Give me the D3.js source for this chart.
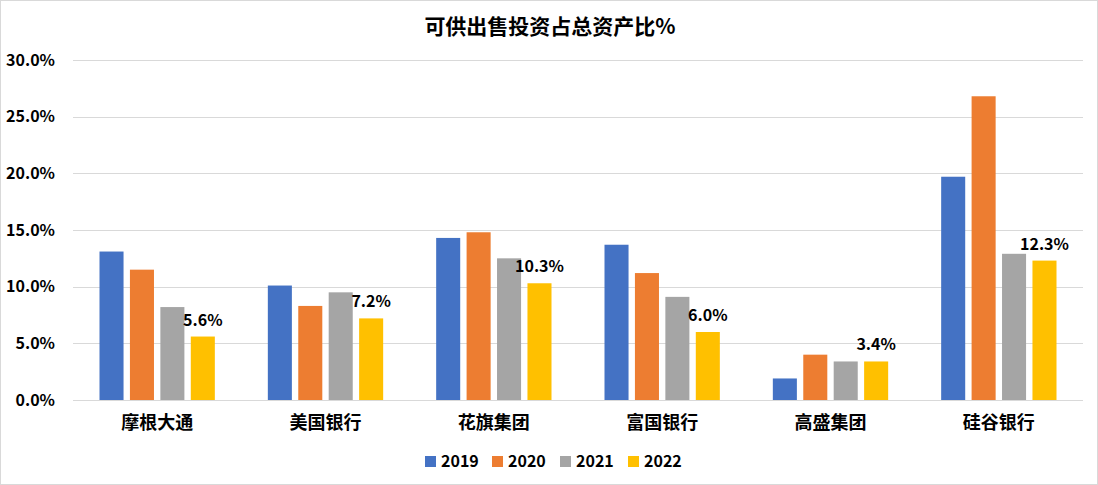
<!DOCTYPE html>
<html><head><meta charset="utf-8">
<script src="https://cdn.jsdelivr.net/npm/d3@7"></script>
<style>
html,body{margin:0;padding:0;background:#fff;}
svg{display:block;font-family:"Noto Sans CJK SC","Microsoft YaHei",sans-serif;}
</style></head>
<body>
<svg id="chart" width="1098" height="485"></svg>
<script>
const categories = ["摩根大通","美国银行","花旗集团","富国银行","高盛集团","硅谷银行"];
const seriesNames = ["2019","2020","2021","2022"];
const v2019 = [13.1, 10.1, 14.3, 13.7, 1.9, 19.7];
const v2020 = [11.5, 8.3, 14.8, 11.2, 4.0, 26.8];
const v2021 = [8.2, 9.5, 12.5, 9.1, 3.4, 12.9];
const v2022 = [5.6, 7.2, 10.3, 6.0, 3.4, 12.3];
const yTicks = [0, 5, 10, 15, 20, 25, 30];
const colors = ["#4472C4","#ED7D31","#A5A5A5","#FFC000"];
const title = "可供出售投资占总资产比%";

const seriesVals = [v2019, v2020, v2021, v2022];
const svg = d3.select("#chart");
const W = 1098, H = 485;
const m = {left:73, right:15, top:60, bottom:85};

svg.append("rect").attr("x",0.5).attr("y",0.5).attr("width",W-1).attr("height",H-1)
  .attr("fill","#fff").attr("stroke","#d9d9d9");

const x0 = d3.scaleBand().domain(categories).range([m.left, W-m.right]).padding(0);
const inner = 26.5;
const x1 = d3.scaleBand().domain(seriesNames).range([inner, x0.bandwidth()-inner]).paddingInner(0.21).paddingOuter(0);
const y = d3.scaleLinear().domain([0,30]).range([H-m.bottom, m.top]);

// gridlines
svg.append("g").selectAll("line").data(yTicks).join("line")
  .attr("x1", m.left).attr("x2", W-m.right)
  .attr("y1", d=>Math.round(y(d))+0.5).attr("y2", d=>Math.round(y(d))+0.5)
  .attr("stroke","#d9d9d9").attr("stroke-width",1);

// y axis labels
const yAxis = d3.axisLeft(y).tickValues(yTicks).tickFormat(d=>d.toFixed(1)+"%").tickSize(0).tickPadding(18);
const ya = svg.append("g").attr("transform",`translate(${m.left},0)`).call(yAxis);
ya.select(".domain").remove();
ya.selectAll("text").attr("font-size","16px").attr("font-weight","bold").attr("fill","#000")
  .attr("font-family",'"Noto Sans CJK SC",sans-serif');

// bars
const groups = svg.append("g").selectAll("g").data(categories).join("g")
  .attr("transform", d=>`translate(${x0(d)},0)`);
groups.selectAll("rect").data((c,i)=>seriesNames.map((s,j)=>({s, v:seriesVals[j][i], j})))
  .join("rect")
  .attr("x", d=>x1(d.s)).attr("width", x1.bandwidth())
  .attr("y", d=>y(d.v)).attr("height", d=>y(0)-y(d.v))
  .attr("fill", d=>colors[d.j]);

// data labels for 2022
groups.append("text")
  .attr("x", x1("2022")+x1.bandwidth()/2)
  .attr("y", (c,i)=>y(v2022[i])-11)
  .attr("text-anchor","middle").attr("font-size","16px").attr("font-weight","bold").attr("fill","#000")
  .text((c,i)=>v2022[i].toFixed(1)+"%");

// baseline axis
svg.append("line").attr("x1",m.left).attr("x2",W-m.right)
  .attr("y1",Math.round(y(0))+0.5).attr("y2",Math.round(y(0))+0.5).attr("stroke","#d9d9d9");

// x axis labels
const xAxis = d3.axisBottom(x0).tickSize(0).tickPadding(16);
const xa = svg.append("g").attr("transform",`translate(0,${y(0)})`).call(xAxis);
xa.select(".domain").remove();
xa.selectAll("text").attr("font-size","18px").attr("font-weight","bold").attr("fill","#000")
  .attr("font-family",'"Noto Sans CJK SC",sans-serif');

// title
svg.append("text").attr("x",550).attr("y",34).attr("text-anchor","middle")
  .attr("font-size","21px").attr("font-weight","bold").attr("fill","#000").text(title);

// legend
const legX = [425, 492, 560, 628];
const leg = svg.append("g").selectAll("g").data(seriesNames).join("g")
  .attr("transform",(d,i)=>`translate(${legX[i]},456)`);
leg.append("rect").attr("width",11).attr("height",11).attr("fill",(d,i)=>colors[i]);
leg.append("text").attr("x",16).attr("y",11).attr("font-size","16px").attr("font-weight","bold")
  .attr("fill","#000").text(d=>d);
</script>
</body></html>
